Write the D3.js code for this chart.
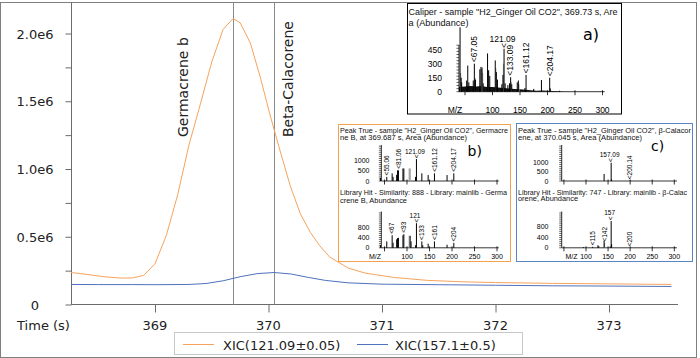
<!DOCTYPE html>
<html><head><meta charset="utf-8">
<script src="https://cdn.jsdelivr.net/npm/d3@7"></script>
<style>body{margin:0;background:#fff}svg{display:block}</style>
</head><body>
<svg id="c" width="700" height="358"></svg>
<script>
// ---------- main chart data ----------
const xicTime = [368.26,368.40,368.55,368.70,368.80,368.90,369.00,369.10,369.20,369.30,369.40,369.50,369.60,369.687,369.75,369.84,369.93,370.01,370.10,370.19,370.28,370.37,370.45,370.54,370.70,370.85,371.10,371.40,371.70,372.00,372.50,373.00,373.55];
const xic121 = [0.236,0.222,0.205,0.195,0.196,0.215,0.300,0.510,0.810,1.180,1.480,1.790,2.030,2.110,2.080,1.930,1.670,1.410,1.140,0.880,0.670,0.530,0.435,0.350,0.270,0.232,0.200,0.178,0.168,0.162,0.156,0.152,0.148];
const blueTime = [368.26,368.50,368.80,369.00,369.30,369.45,369.60,369.75,369.90,370.05,370.20,370.35,370.50,370.70,371.00,371.50,372.00,372.50,373.00,373.55];
const xic157 = [0.148,0.147,0.147,0.146,0.148,0.155,0.175,0.205,0.228,0.236,0.225,0.200,0.178,0.160,0.150,0.146,0.142,0.138,0.136,0.133];
const yTickVals = [0,0.25,0.5,0.75,1.0,1.25,1.5,1.75,2.0];
const yTickLabels = {"0":"0","0.5":"0.5e6","1":"1.0e6","1.5":"1.5e6","2":"2.0e6"};
const xTickVals = [369,370,371,372,373];
const peakNames = ["Germacrene b","Beta-Calacorene"];
const peakTimes = [369.687,370.045];
const seriesNames = ["XIC(121.09\u00b10.05)","XIC(157.1\u00b10.5)"];
const seriesColors = ["#F7A35C","#4F72BE"];

// ---------- inset spectra data ----------
const titleA = ["Caliper - sample \"H2_Ginger Oil CO2\", 369.73 s, Are","a (Abundance)"];
const specA = [[41,690],[43,150],[44,100],[53,120],[55,280],[57,100],[65,120],[67,300],[69,130],[77,240],[79,265],[81,260],[83,90],[91,410],[93,230],[95,170],[105,335],[107,210],[109,130],[117,80],[119,180],[121,460],[123,90],[128,70],[131,90],[133,155],[135,80],[145,100],[147,120],[159,40],[161,180],[175,30],[189,125],[204,150],[205,35],[222,10]];
const specAgray = [[42,200],[68,150],[80,240],[82,200],[92,220],[106,250],[120,300],[134,100],[148,80]];
const specAbase = [[39,50],[50,55],[60,60],[70,55],[80,60],[90,50],[100,50],[110,45],[120,40],[130,35],[140,30],[150,25],[160,20],[170,15],[180,10],[190,12],[200,10],[210,8],[220,5],[230,0]];
const labelsA = [[67,"67.05",1],[121,"121.09",0],[133,"133.09",1],[161,"161.12",1],[204,"204.17",1]];
const yTicksA = [0,150,300,450];

const titleB1 = ["Peak True - sample \"H2_Ginger Oil CO2\", Germacre","ne B, at 369.687 s, Area (Abundance)"];
const specB1 = [[41,150],[55,200],[67,370],[69,200],[77,300],[79,520],[81,520],[91,610],[93,610],[119,200],[121,1070],[133,375],[147,290],[161,375],[189,290],[204,375]];
const specB1gray = [[105,610],[107,610]];
const labelsB1 = [[55,"55.06",1],[81,"81.06",1],[121,"121.09",0],[161,"161.12",1],[204,"204.17",1]];
const yTicksB1 = [0,500,1000];
const titleB2 = ["Library Hit - Similarity: 888 - Library: mainlib - Germa","crene B, Abundance"];
const specB2 = [[41,100],[55,250],[67,490],[69,200],[77,330],[79,380],[81,390],[91,490],[93,530],[107,470],[109,250],[119,100],[121,960],[133,250],[135,100],[147,160],[161,250],[189,120],[204,190]];
const specB2gray = [[105,470]];
const labelsB2 = [[67,"67",1],[93,"93",1],[121,"121",0],[133,"133",1],[161,"161",1],[204,"204",1]];
const yTicksB2 = [0,400,800];

const titleC1 = ["Peak True - sample \"H2_Ginger Oil CO2\", \u03b2-Calacor","ene, at 370.045 s, Area (Abundance)"];
const specC1 = [[141,370],[157,960],[158,80],[200,15]];
const specC1gray = [];
const labelsC1 = [[157,"157.09",0],[200,"200.14",1]];
const yTicksC1 = [0,500,1000];
const titleC2 = ["Library Hit - Similarity: 747 - Library: mainlib - \u03b2-Calac","orene, Abundance"];
const specC2 = [[94,30],[115,40],[127,95],[129,60],[141,260],[155,50],[157,1020],[158,140]];
const specC2gray = [[142,180]];
const labelsC2 = [[115,"115",1],[142,"142",1],[157,"157",0],[200,"200",1]];
const yTicksC2 = [0,400,800];
const mzTicks = [50,100,150,200,250,300];

// ---------- drawing ----------
const svg = d3.select("#c");
const F = "'DejaVu Sans', Verdana, sans-serif";
const FS = "'Liberation Sans', Arial, sans-serif";

// outer frame
svg.append("rect").attr("x",0.5).attr("y",2.5).attr("width",696).attr("height",355)
  .attr("fill","#fff").attr("stroke","#7f7f7f");

const x = d3.scaleLinear().domain([368.26,373.62]).range([71,679.4]);
const y = d3.scaleLinear().domain([0,2.0]).range([304.5,33.5]);

const axisCol = "#6b6b6b";
// y axis
const gy = svg.append("g").attr("transform","translate(71.5,0)")
  .call(d3.axisLeft(y).tickValues(yTickVals).tickSize(6).tickFormat(""));
gy.select(".domain").remove();
gy.selectAll("line").attr("stroke",axisCol);
svg.append("line").attr("x1",71.5).attr("x2",71.5).attr("y1",2.5).attr("y2",305).attr("stroke",axisCol);
svg.selectAll(".ylab").data(yTickVals.filter(v=>yTickLabels[String(v)]!==undefined)).join("text")
  .attr("x",35).attr("y",d=>y(d)+5).attr("text-anchor","middle")
  .style("font-family",F).style("font-size","13px").attr("fill","#222")
  .text(d=>yTickLabels[String(d)]);

// x axis
const gx = svg.append("g").attr("transform","translate(0,304.5)")
  .call(d3.axisBottom(x).tickValues(xTickVals).tickSize(8).tickFormat(""));
gx.select(".domain").remove();
gx.selectAll("line").attr("stroke",axisCol);
svg.append("line").attr("x1",71).attr("x2",678).attr("y1",304.5).attr("y2",304.5).attr("stroke",axisCol);
svg.selectAll(".xlab").data(xTickVals).join("text")
  .attr("x",d=>x(d)).attr("y",330).attr("text-anchor","middle")
  .style("font-family",F).style("font-size","13px").attr("fill","#222").text(d=>d);
svg.append("text").attr("x",43.5).attr("y",330).attr("text-anchor","middle")
  .style("font-family",F).style("font-size","13px").attr("fill","#222").text("Time (s)");

// peak marker lines and names
peakTimes.forEach((t,i)=>{
  svg.append("line").attr("x1",Math.round(x(t))+0.5).attr("x2",Math.round(x(t))+0.5)
    .attr("y1",2.5).attr("y2",304.5).attr("stroke","#8a8a8a");
});
const nameX = [188.3,293.3];
peakNames.forEach((n,i)=>{
  svg.append("text").attr("transform",`translate(${nameX[i]},137) rotate(-90)`)
    .style("font-family",F).style("font-size","14px").attr("fill","#222").text(n);
});

// lines
const line = d3.line().x(d=>x(d[0])).y(d=>y(d[1]));
svg.append("path").datum(blueTime.map((t,i)=>[t,xic157[i]]))
  .attr("d",line).attr("fill","none").attr("stroke",seriesColors[1]).attr("stroke-width",1);
svg.append("path").datum(xicTime.map((t,i)=>[t,xic121[i]]))
  .attr("d",line).attr("fill","none").attr("stroke",seriesColors[0]).attr("stroke-width",1);

// legend
svg.append("rect").attr("x",174.5).attr("y",332.5).attr("width",348).attr("height",22)
  .attr("fill","#fff").attr("stroke","#c8c8c8");
const legX = [[183,214,223],[357,388,395]];
seriesNames.forEach((n,i)=>{
  svg.append("line").attr("x1",legX[i][0]).attr("x2",legX[i][1]).attr("y1",344.5).attr("y2",344.5)
    .attr("stroke",seriesColors[i]);
  svg.append("text").attr("x",legX[i][2]).attr("y",349.5)
    .style("font-family",F).style("font-size","13px").attr("fill","#222").text(n);
});

// ---------- spectrum inset helper ----------
function spectrum(c){
  const g = svg.append("g");
  const sx = d3.scaleLinear().domain([0,300]).range(c.xr);
  const sy = d3.scaleLinear().domain([0,c.yv]).range([c.y0,c.y0-c.yv*c.k]);
  const ax = sx(c.mzStart), ae = sx(c.mzEnd);
  // y axis with minor ticks
  g.append("line").attr("x1",ax).attr("x2",ax).attr("y1",c.yTop).attr("y2",c.y0).attr("stroke","#000").attr("stroke-width",0.8);
  for(let yy=c.y0; yy>=c.yTop; yy-=c.minor){
    g.append("line").attr("x1",ax-2.5).attr("x2",ax).attr("y1",yy).attr("y2",yy).attr("stroke","#000").attr("stroke-width",0.6);
  }
  // x axis
  g.append("line").attr("x1",ax).attr("x2",ae).attr("y1",c.y0).attr("y2",c.y0).attr("stroke","#000").attr("stroke-width",0.8);
  mzTicks.forEach(m=>{
    g.append("line").attr("x1",sx(m)).attr("x2",sx(m)).attr("y1",c.y0-1.5).attr("y2",c.y0+3.5).attr("stroke","#000").attr("stroke-width",0.8);
  });
  if(c.xlab){
    mzTicks.filter(m=>m>=100).forEach(m=>{
      g.append("text").attr("x",sx(m)).attr("y",c.xlabY).attr("text-anchor","middle")
        .style("font-family",FS).style("font-size",c.tf+"px").text(m);
    });
    g.append("text").attr("x",c.mzLabX).attr("y",c.xlabY).attr("text-anchor","middle")
      .style("font-family",FS).style("font-size",c.tf+"px").text("M/Z");
  }
  // y tick labels
  c.yt.forEach(v=>{
    g.append("text").attr("x",c.ylabX).attr("y",sy(v)+c.tf*0.36).attr("text-anchor","end")
      .style("font-family",FS).style("font-size",c.tf+"px").text(v);
  });
  // baseline grass
  if(c.base){
    g.append("path").datum(c.base)
      .attr("d",d3.area().x(d=>sx(d[0])).y0(c.y0).y1(d=>sy(d[1])))
      .attr("fill","#111");
  }
  // bars
  c.gray.forEach(d=>{
    g.append("line").attr("x1",sx(d[0])).attr("x2",sx(d[0])).attr("y1",c.y0).attr("y2",sy(d[1]))
      .attr("stroke","#9a9a9a").attr("stroke-width",1.2);
  });
  c.bars.forEach(d=>{
    g.append("line").attr("x1",sx(d[0])).attr("x2",sx(d[0])).attr("y1",c.y0).attr("y2",sy(d[1]))
      .attr("stroke","#000").attr("stroke-width",1);
  });
  // labels
  const lookup = new Map(c.bars.concat(c.gray).map(d=>[d[0],d[1]]));
  c.labels.forEach(([m,t,rot])=>{
    const top = sy(lookup.has(m)?lookup.get(m):0);
    const bx = sx(m);
    if(rot){
      g.append("text").attr("transform",`translate(${bx+c.lf*0.33},${top-1.5}) rotate(-90)`)
        .style("font-family",FS).style("font-size",c.lf+"px").text("<"+t);
    } else {
      g.append("text").attr("transform",`translate(${bx+c.lf*0.33},${top-0.8}) rotate(-90)`)
        .style("font-family",FS).style("font-size",c.lf+"px").text("<");
      g.append("text").attr("x",bx-1.5).attr("y",top-c.lf*0.62-1.5).attr("text-anchor","middle")
        .style("font-family",FS).style("font-size",c.lf+"px").text(t);
    }
  });
}

function titles(lines,x0,ys,widths,fs){
  lines.forEach((t,i)=>{
    svg.append("text").attr("x",x0).attr("y",ys[i])
      .attr("textLength",widths[i]).attr("lengthAdjust","spacingAndGlyphs")
      .style("font-family",FS).style("font-size",fs+"px").attr("fill","#111").text(t);
  });
}

// inset a
svg.append("rect").attr("x",407.5).attr("y",3.5).attr("width",214).attr("height",110.5)
  .attr("fill","#fff").attr("stroke","#000");
titles(titleA,408.5,[15,25.5],[209,60],9);
svg.append("text").attr("x",583).attr("y",39.5).style("font-family",F).style("font-size","16px").text("a)");
spectrum({xr:[437.5,602.5],mzStart:39,mzEnd:304,y0:91.7,yv:450,k:42/450,yTop:45,minor:3.1,
  bars:specA,gray:specAgray,base:specAbase,labels:labelsA,yt:yTicksA,ylabX:442,tf:8.5,lf:8.5,
  xlab:true,xlabY:113,mzLabX:455});

// inset b
svg.append("rect").attr("x",338.5).attr("y",124.5).attr("width",172).attr("height",137)
  .attr("fill","#fff").attr("stroke","#F4A150");
titles(titleB1,340,[133,140],[168,127],7);
titles(titleB2,340,[195,202.5],[167,67],7);
svg.append("text").attr("x",467.5).attr("y",156).style("font-family",F).style("font-size","14px").text("b)");
spectrum({xr:[362,497],mzStart:43,mzEnd:304,y0:181,yv:1000,k:20.5/1000,yTop:145,minor:2.05,
  bars:specB1,gray:specB1gray,base:null,labels:labelsB1,yt:yTicksB1,ylabX:369.5,tf:7,lf:6.5,xlab:false});
spectrum({xr:[362,497],mzStart:43,mzEnd:304,y0:247.8,yv:800,k:20.5/800,yTop:211.5,minor:2.05,
  bars:specB2,gray:specB2gray,base:null,labels:labelsB2,yt:yTicksB2,ylabX:369.5,tf:7,lf:6.5,
  xlab:true,xlabY:258.8,mzLabX:375});

// inset c
svg.append("rect").attr("x",516.5).attr("y",123.5).attr("width",176).attr("height",138)
  .attr("fill","#fff").attr("stroke","#5A86C8");
titles(titleC1,518,[132.5,139.5],[173,124],7);
titles(titleC2,518,[194.5,201],[169,60],7);
svg.append("text").attr("x",651).attr("y",151).style("font-family",F).style("font-size","14px").text("c)");
spectrum({xr:[541.85,674.3],mzStart:45,mzEnd:306,y0:181,yv:1000,k:19/1000,yTop:145,minor:2.05,
  bars:specC1,gray:specC1gray,base:null,labels:labelsC1,yt:yTicksC1,ylabX:548.5,tf:7,lf:6.5,xlab:false});
spectrum({xr:[541.85,674.3],mzStart:45,mzEnd:306,y0:247.8,yv:800,k:21/800,yTop:211.5,minor:2.05,
  bars:specC2,gray:specC2gray,base:null,labels:labelsC2,yt:yTicksC2,ylabX:548.5,tf:7,lf:6.5,
  xlab:true,xlabY:258.8,mzLabX:571.5});
</script>
</body></html>
